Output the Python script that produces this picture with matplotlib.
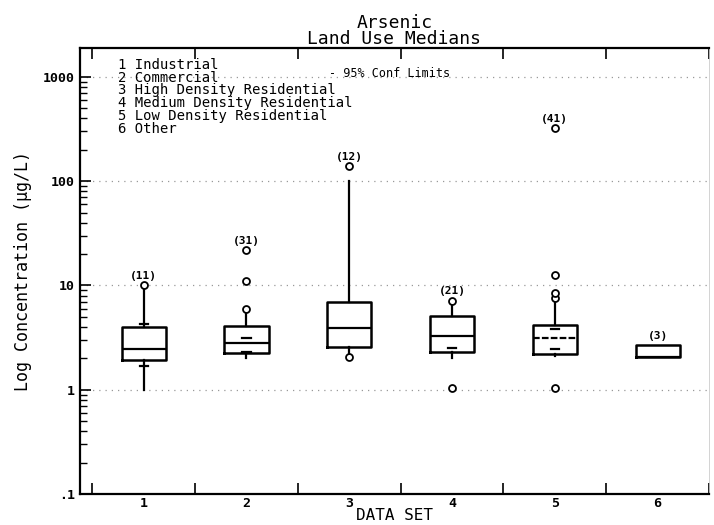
import matplotlib
matplotlib.use("Agg")
import matplotlib.pyplot as plt
from matplotlib.ticker import FixedLocator, NullFormatter, LogLocator

plt.rcParams['font.family'] = ['DejaVu Sans Mono', 'DejaVu Sans']

# Data
sets = [1, 2, 3, 4, 5, 6]
land_use = ["Industrial", "Commercial", "High Density Residential",
            "Medium Density Residential", "Low Density Residential", "Other"]
counts = [11, 31, 12, 21, 41, 3]
q1 = [1.94, 2.25, 2.57, 2.29, 2.20, 2.06]
med = [2.47, 2.80, 3.90, 3.25, 3.13, 2.06]
q3 = [3.98, 4.04, 6.90, 5.10, 4.13, 2.70]
whis_lo = [1.0, 2.02, 2.2, 2.02, 2.1, 2.06]
whis_hi = [10.0, 6.0, 100.0, 6.9, 7.3, 2.70]
fliers = [[10.0], [6.0, 11.0, 21.7], [140.0, 2.05], [7.15, 1.05],
          [7.55, 8.5, 12.5, 320.0, 1.05], []]
conf_lo = [1.69, 2.30, None, 2.50, 2.47, None]
conf_hi = [4.25, 3.13, None, None, 3.80, None]

fig = plt.figure(figsize=(7.14, 5.25), dpi=100)
ax = fig.add_axes([0.112, 0.059, 0.881, 0.850])

stats = []
for i in range(len(sets)):
    stats.append(dict(med=med[i], q1=q1[i], q3=q3[i], whislo=whis_lo[i],
                      whishi=whis_hi[i], fliers=fliers[i]))

bp = ax.bxp(stats, positions=sets, widths=0.43, showcaps=False,
            boxprops=dict(color='black', linewidth=1.8),
            whiskerprops=dict(color='black', linewidth=1.6),
            medianprops=dict(color='black', linewidth=1.6),
            flierprops=dict(marker='o', markerfacecolor='white',
                            markeredgecolor='black', markersize=5,
                            markeredgewidth=1.3))
bp['medians'][4].set_linestyle((0, (3, 1)))

# 95% confidence limit dashes
for i, x in enumerate(sets):
    for c in (conf_lo[i], conf_hi[i]):
        if c is not None:
            ax.plot([x - 0.04, x + 0.04], [c, c], color='black', lw=1.6)

# sample counts above highest point
for i, x in enumerate(sets):
    top = max(fliers[i] + [whis_hi[i], q3[i]])
    ax.annotate(f"({counts[i]})", (x, top), xytext=(0, 3),
                textcoords='offset points', ha='center', va='bottom',
                fontsize=8, fontweight='bold')

ax.set_yscale('log')
ax.set_ylim(0.1, 1900)
ax.set_xlim(0.38, 6.5)

ax.yaxis.set_major_locator(FixedLocator([0.1, 1, 10, 100, 1000]))
ax.set_yticklabels(['.1', '1', '10', '100', '1000'], fontsize=9.5,
                   fontweight='bold')
ax.yaxis.set_minor_locator(LogLocator(base=10, subs=range(2, 10)))
ax.yaxis.set_minor_formatter(NullFormatter())
ax.tick_params(axis='y', which='major', direction='in', length=8, width=1.2)
ax.tick_params(axis='y', which='minor', direction='in', length=5, width=1.0)

ax.xaxis.set_major_locator(FixedLocator([0.5, 1.5, 2.5, 3.5, 4.5, 5.5, 6.5]))
ax.xaxis.set_major_formatter(NullFormatter())
ax.set_xticks(sets, [str(s) for s in sets], minor=True)
ax.tick_params(axis='x', which='major', direction='in', length=8, width=1.2,
               top=True, bottom=True)
ax.tick_params(axis='x', which='minor', length=0, labelsize=9.5, pad=2)
for lab in ax.get_xticklabels(minor=True):
    lab.set_fontweight('bold')

for y in [1, 10, 100, 1000]:
    ax.axhline(y, color='#999999', lw=0.9, ls=(0, (1, 4)), zorder=0)

for s in ['left', 'top', 'bottom']:
    ax.spines[s].set_linewidth(1.6)
ax.spines['right'].set_linewidth(0.6)
ax.spines['right'].set_color('#cccccc')

ax.set_xlabel('DATA SET', fontsize=11.5, labelpad=-1)
ax.set_ylabel('Log Concentration (\u03bcg/L)', fontsize=12, labelpad=8)
ax.set_title('Arsenic\nLand Use Medians', fontsize=13, linespacing=0.85, pad=3)

# land use key
for i, name in enumerate(land_use):
    ax.text(0.06, 0.978 - i * 0.029, f"{sets[i]} {name}", transform=ax.transAxes,
            fontsize=10, va='top', ha='left')
ax.text(0.396, 0.957, '- 95% Conf Limits', transform=ax.transAxes,
        fontsize=8.5, va='top', ha='left')

fig.savefig('out.png', dpi=100)
